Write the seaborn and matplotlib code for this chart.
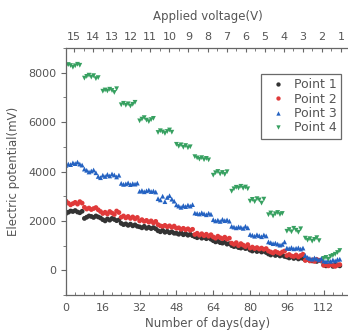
import numpy as np
import pandas as pd
import seaborn as sns
import matplotlib.pyplot as plt
from matplotlib.ticker import MultipleLocator

# days 0..119, one reading per day, grouped in 8-day blocks (one block per applied voltage)
days = np.arange(120)
nan = np.nan

point1 = [2300, 2350, 2400, 2380, 2420, 2360, 2330, 2390,
          2100, 2150, 2200, 2180, 2140, 2200, 2160, 2120,
          2050, 2000, 2080, 2030, 2100, 2060, 2010, 2040,
          1900, 1850, 1880, 1820, 1870, 1800, 1840, 1780,
          1760, 1720, 1780, 1700, 1740, 1690, 1730, 1680,
          1600, 1560, 1620, 1540, 1580, 1520, 1560, 1500,
          1500, 1460, 1520, 1440, 1480, 1420, 1460, 1400,
          1360, 1320, 1380, 1300, 1340, 1280, 1320, 1260,
          1200, 1150, 1180, 1120, 1100, 1140, 1060, 1080,
          1000, 960, 980, 920, 900, 940, 880, 900,
          820, 780, 840, 760, 800, 740, 780, 720,
          660, 620, 680, 600, 640, 580, 620, 560,
          540, 500, 560, 480, 520, 460, 500, 480,
          420, 450, 400, 380, 420, 360, 400, 380,
          220, 180, 200, 240, 160, 200, 220, 180]

point2 = [2800, 2720, 2650, 2700, 2750, 2680, 2780, 2720,
          2550, 2480, 2520, 2460, 2500, 2540, 2450, 2380,
          2300, 2350, 2280, 2380, 2320, 2260, 2400, 2340,
          2150, 2200, 2120, 2180, 2100, 2160, 2080, 2140,
          2000, 2050, 1980, 2020, 1950, 2000, 1920, 1980,
          1850, 1800, 1780, 1820, 1760, 1800, 1740, 1790,
          1700, 1720, 1660, 1700, 1640, 1680, 1620, 1660,
          1450, 1500, 1420, 1480, 1400, 1460, 1380, 1440,
          1350, 1300, 1380, 1320, 1280, 1340, 1260, 1300,
          1100, 1050, 1120, 1000, 1080, 1020, 960, 1040,
          900, 940, 880, 920, 860, 900, 850, 880,
          780, 740, 700, 760, 720, 680, 740, 780,
          600, 640, 580, 560, 620, 540, 600, 650,
          400, 450, 380, 420, 360, 440, 400, 380,
          200, 220, 180, 240, 200, 160, 210, 230]

point3 = [4250, 4300, 4280, 4350, 4320, 4380, 4300, 4260,
          4100, 4050, 3980, 4020, 4060, 3950, 3800, 3750,
          3850, 3800, 3880, 3820, 3900, 3860, 3780, 3850,
          3520, 3480, 3500, 3540, 3470, 3510, 3490, 3530,
          3200, 3230, 3180, 3220, 3250, 3190, 3210, 3170,
          2900, 2850, 3000, 2780, 2950, 3020, 2880, 2800,
          2650, 2600, 2550, 2620, 2580, 2640, 2600, 2660,
          2320, 2300, 2280, 2330, 2290, 2250, 2310, 2270,
          2050, 2000, 2030, 1980, 2060, 2010, 2040, 1990,
          1780, 1750, 1720, 1760, 1740, 1700, 1780, 1720,
          1450, 1420, 1380, 1440, 1400, 1360, 1430, 1390,
          1150, 1120, 1080, 1100, 1060, 1020, 1050, 1150,
          900, 880, 920, 870, 890, 910, 860, 900,
          600, 520, 480, 450, 500, 460, 420, 480,
          380, 350, 400, 360, 420, 380, 440, 450]

point4 = [8260, 8330, 8290, 8220, 8280, 8340, 8300, nan,
          7780, 7850, 7900, 7820, 7880, 7760, 7800, nan,
          7250, 7300, 7260, 7330, 7280, 7200, 7350, nan,
          6700, 6760, 6680, 6740, 6650, 6720, 6800, nan,
          6050, 6120, 6180, 6080, 6020, 6100, 6150, nan,
          5580, 5650, 5600, 5540, 5620, 5680, 5590, nan,
          5100, 5020, 5080, 4980, 5050, 4960, 5000, nan,
          4600, 4550, 4500, 4560, 4480, 4530, 4470, nan,
          3850, 3950, 4000, 3900, 3960, 3880, 3990, nan,
          3200, 3300, 3360, 3330, 3400, 3320, 3370, 3300,
          2800, 2870, 2780, 2900, 2850, 2720, 2880, nan,
          2250, 2320, 2200, 2290, 2340, 2260, 2300, nan,
          1580, 1650, 1560, 1700, 1620, 1540, 1680, nan,
          1300, 1220, 1280, 1180, 1250, 1320, 1200, nan,
          480, 520, 450, 560, 600, 650, 720, 800]

series_names = ['Point 1', 'Point 2', 'Point 3', 'Point 4']
voltages = list(range(15, 0, -1))

colors = {'Point 1': '#333333', 'Point 2': '#e03a3a',
          'Point 3': '#2462c2', 'Point 4': '#36a060'}
markers = {'Point 1': 'o', 'Point 2': 'o', 'Point 3': '^', 'Point 4': 'v'}

df = pd.concat([pd.DataFrame({'day': days, 'mV': vals, 'series': name})
                for name, vals in zip(series_names, [point1, point2, point3, point4])])
df = df.dropna()

sns.set_style('white')
plt.rcParams['font.family'] = ['DejaVu Sans']
txt = '#555555'

fig = plt.figure(figsize=(3.48, 3.36), dpi=100)
ax = fig.add_axes([66/348, 41/336, 283/348, 247/336])

sns.scatterplot(data=df, x='day', y='mV', hue='series', style='series',
                palette=colors, markers=markers, s=12, linewidth=0, ax=ax)

ax.set_xlim(0, 123)
ax.set_ylim(-1000, 9000)
ax.set_xticks([0, 16, 32, 48, 64, 80, 96, 112])
ax.xaxis.set_minor_locator(MultipleLocator(4))
ax.set_yticks([0, 2000, 4000, 6000, 8000])
ax.yaxis.set_minor_locator(MultipleLocator(1000))
ax.tick_params(axis='x', which='both', direction='in', colors='#666666', labelcolor=txt, labelsize=8, pad=6)
ax.tick_params(axis='x', which='major', length=3.5, width=0.8)
ax.tick_params(axis='x', which='minor', length=2, width=0.6)
ax.tick_params(axis='y', which='both', direction='out', left=True, colors='#666666', labelcolor=txt, labelsize=8)
ax.tick_params(axis='y', which='major', length=3.5, width=0.8)
ax.tick_params(axis='y', which='minor', length=2, width=0.6)
ax.set_xlabel('Number of days(day)', fontsize=8.5, color=txt, labelpad=3)
ax.set_ylabel('Electric potential(mV)', fontsize=8.5, color=txt, labelpad=6)

for side in ['left', 'bottom', 'top']:
    ax.spines[side].set_color('#666666')
    ax.spines[side].set_linewidth(0.9)
ax.spines['right'].set_visible(False)

# top axis: applied voltage, one step per 8-day block
top = ax.twiny()
top.set_xlim(ax.get_xlim())
top_pos = np.linspace(3.5, 119.5, len(voltages))
top.set_xticks(top_pos)
top.set_xticklabels([str(v) for v in voltages])
top.set_xticks((top_pos[:-1] + top_pos[1:]) / 2, minor=True)
top.tick_params(axis='x', which='both', direction='in', colors='#666666', labelcolor=txt, labelsize=8, pad=4)
top.tick_params(axis='x', which='major', length=3, width=0.8)
top.tick_params(axis='x', which='minor', length=2, width=0.6)
top.set_xlabel('Applied voltage(V)', fontsize=8.5, color=txt, labelpad=9)
for s in top.spines.values():
    s.set_visible(False)

handles, labels = ax.get_legend_handles_labels()
leg = ax.legend(handles, labels, loc='upper right', bbox_to_anchor=(0.995, 0.92),
                fontsize=9, frameon=True, fancybox=False, edgecolor='#444444',
                handletextpad=0.3, borderpad=0.35, labelspacing=0.1, markerscale=0.9)
leg.get_frame().set_linewidth(0.9)
for t in leg.get_texts():
    t.set_color(txt)

fig.savefig('out.png', dpi=100)
